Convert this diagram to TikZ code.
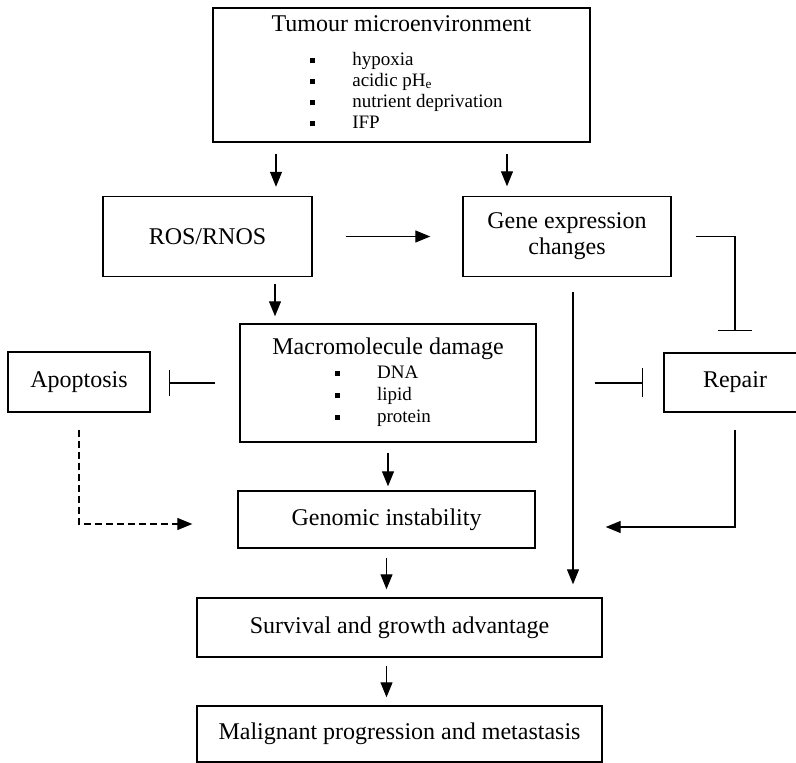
\documentclass[tikz,border=0pt]{standalone}
\usepackage{fontspec}
\setmainfont{Liberation Serif}
\usetikzlibrary{arrows.meta,calc,positioning}
\newcommand{\sqbul}{\rule[1pt]{2.5pt}{2.5pt}\kern18.5pt}

\begin{document}
\begin{tikzpicture}[
  x=0.5pt, y=-0.5pt,
  box/.style={draw, line width=0.7pt, inner sep=2pt, align=center, font=\fontsize{12}{13}\selectfont},
  arrow/.style={-{Triangle[length=7.5pt, width=6pt]}, line width=0.6pt},
  inhibit/.style={-{Bar[width=#1]}, line width=0.6pt},
  maybe/.style={dash pattern=on 3.5pt off 2pt}
]
  \useasboundingbox (0,0) rectangle (796,763);

  \node[box, minimum width=188.5pt, minimum height=67pt] (tme) at (401.5,75)
    {Tumour microenvironment\\[4pt]
     {\fontsize{9.5}{10.5}\selectfont\kern5pt\begin{tabular}[t]{@{}l@{}l@{}}
       \sqbul & hypoxia\\ \sqbul & acidic pH\textsubscript{e}\\
       \sqbul & nutrient deprivation\\ \sqbul & IFP
     \end{tabular}}};
  \node[box, minimum width=104.5pt, minimum height=40pt] (ros) at (207.5,236.5) {ROS/RNOS};
  \node[box, minimum width=104pt, minimum height=40pt] (gene) at (567,236.5) {Gene expression\\changes};
  \node[box, minimum width=148pt, minimum height=59pt] (macro) at (388,383)
    {Macromolecule damage\\[-1pt]
     {\fontsize{9.5}{11}\selectfont\begin{tabular}[t]{@{}l@{}l@{}}
       \sqbul & DNA\\ \sqbul & lipid\\ \sqbul & protein
     \end{tabular}\kern5pt}};
  \node[box, minimum width=71pt, minimum height=30pt] (apop) at (79,382) {Apoptosis};
  \node[box, minimum width=71pt, minimum height=29.5pt] (repair) at (735,382.5) {Repair};
  \node[box, minimum width=148.5pt, minimum height=28.5pt] (geno) at (386.5,519.5) {Genomic instability};
  \node[box, minimum width=202.5pt, minimum height=29.5pt] (surv) at (399.5,627.5) {Survival and growth advantage};
  \node[box, minimum width=202.5pt, minimum height=28pt] (malig) at (399.5,734) {Malignant progression and metastasis};

  % upper part
  \draw[arrow, shorten <=5.5pt, shorten >=4.5pt] ([xshift=-62.75pt]tme.south) -- ([xshift=-62.75pt]tme.south |- ros.north);
  \draw[arrow, shorten <=5.5pt, shorten >=4.75pt] ([xshift=52.75pt]tme.south) -- ([xshift=52.75pt]tme.south |- gene.north);
  \draw[arrow, shorten <=16.5pt, shorten >=16pt] (ros) -- (gene);
  \draw[arrow, shorten <=3.25pt, shorten >=3.5pt] ([xshift=33.75pt]ros.south) -- ([xshift=33.75pt]ros.south |- macro.north);
  \draw[arrow, shorten <=7.25pt, shorten >=6.5pt] ([xshift=3pt]gene.south) -- ([xshift=3pt]gene.south |- surv.north);
  \draw[inhibit=17pt, shorten <=12pt, shorten >=10.5pt] (gene.east) -| (repair.north);

  % damage, apoptosis and repair
  \draw[inhibit=13pt, shorten <=12pt, shorten >=9pt] (macro.west) -- (macro.west -| apop.east);
  \draw[inhibit=14.5pt, shorten <=29pt, shorten >=10pt] (macro.east) -- (macro.east -| repair.west);
  \draw[arrow, shorten <=5pt, shorten >=2pt] (macro.south) -- (macro.south |- geno.north);
  \draw[arrow, maybe, shorten <=8.5pt, shorten >=22.5pt] (apop.south) |- ([yshift=-2.25pt]geno.west);
  \draw[arrow, shorten <=8.5pt, shorten >=35pt] (repair.south) |- ([yshift=-3.75pt]geno.east);

  % lower part
  \draw[arrow, shorten <=4.5pt, shorten >=4pt] (geno.south) -- (geno.south |- surv.north);
  \draw[arrow, shorten <=4pt, shorten >=4pt] (surv.south -| geno.south) -- (malig.north -| geno.south);
\end{tikzpicture}
\end{document}
